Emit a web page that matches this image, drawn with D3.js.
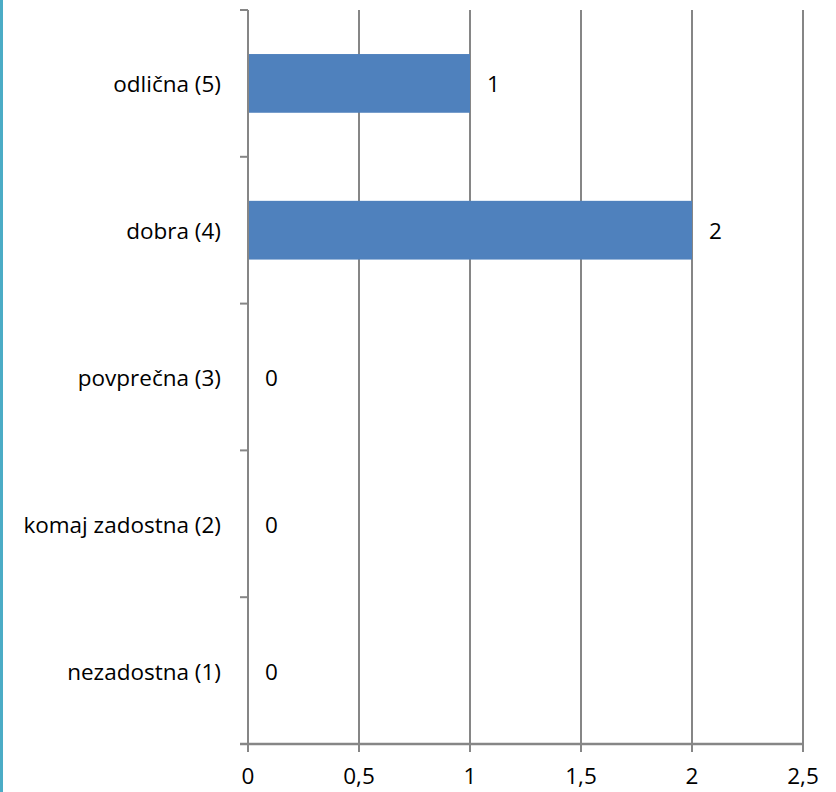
<!DOCTYPE html>
<html><head><meta charset="utf-8">
<script src="https://cdn.jsdelivr.net/npm/d3@7"></script>
<style>body{margin:0;background:#fff;}svg{display:block;}</style>
</head><body>
<script>
const categories = ["odlična (5)", "dobra (4)", "povprečna (3)", "komaj zadostna (2)", "nezadostna (1)"];
const values = [1, 2, 0, 0, 0];
const xTicks = [0, 0.5, 1, 1.5, 2, 2.5];
const xTickLabels = ["0", "0,5", "1", "1,5", "2", "2,5"];

const W = 836, H = 792;
const svg = d3.select("body").append("svg").attr("width", W).attr("height", H);
const font = "'Open Sans', 'Noto Sans', sans-serif";
const fs = 22.5;

svg.append("rect").attr("x", 0).attr("y", 0).attr("width", 3).attr("height", H).attr("fill", "#4BACC6");

const x = d3.scaleLinear().domain([0, 2.5]).range([248, 803]);
const y = d3.scaleBand().domain(categories).range([10, 744]).paddingInner(0.6).paddingOuter(0.3);
const step = y.step();
const grid = "#868686";

// gridlines
svg.append("g").selectAll("line").data(xTicks.slice(1)).join("line")
  .attr("x1", d => x(d)).attr("x2", d => x(d)).attr("y1", 10).attr("y2", 752)
  .attr("stroke", grid).attr("stroke-width", 2);

// bars
svg.append("g").selectAll("rect").data(categories).join("rect")
  .attr("x", x(0)).attr("y", d => y(d))
  .attr("width", (d, i) => x(values[i]) - x(0))
  .attr("height", y.bandwidth())
  .attr("fill", "#4F81BD");

// y axis line and ticks
svg.append("line").attr("x1", x(0)).attr("x2", x(0)).attr("y1", 10).attr("y2", 752)
  .attr("stroke", grid).attr("stroke-width", 2);
const boundaries = d3.range(categories.length + 1).map(i => 10 + i * step);
svg.append("g").selectAll("line").data(boundaries).join("line")
  .attr("x1", 240).attr("x2", x(0)).attr("y1", d => d).attr("y2", d => d)
  .attr("stroke", grid).attr("stroke-width", 2);

// x axis line
svg.append("line").attr("x1", 240).attr("x2", x(2.5) + 1).attr("y1", 744).attr("y2", 744)
  .attr("stroke", grid).attr("stroke-width", 2.5);

// x tick labels
svg.append("g").selectAll("text").data(xTicks).join("text")
  .attr("x", d => x(d)).attr("y", 784)
  .attr("text-anchor", "middle").attr("font-family", font).attr("font-size", fs).attr("fill", "#000")
  .text((d, i) => xTickLabels[i]);

// category labels
svg.append("g").selectAll("text").data(categories).join("text")
  .attr("x", 221).attr("y", d => y(d) + y.bandwidth() / 2 + 9)
  .attr("text-anchor", "end").attr("font-family", font).attr("font-size", fs).attr("fill", "#000")
  .text(d => d);

// value labels
svg.append("g").selectAll("text").data(categories).join("text")
  .attr("x", (d, i) => x(values[i]) + 17).attr("y", d => y(d) + y.bandwidth() / 2 + 9)
  .attr("font-family", font).attr("font-size", fs).attr("fill", "#000")
  .text((d, i) => values[i]);
</script>
</body></html>
